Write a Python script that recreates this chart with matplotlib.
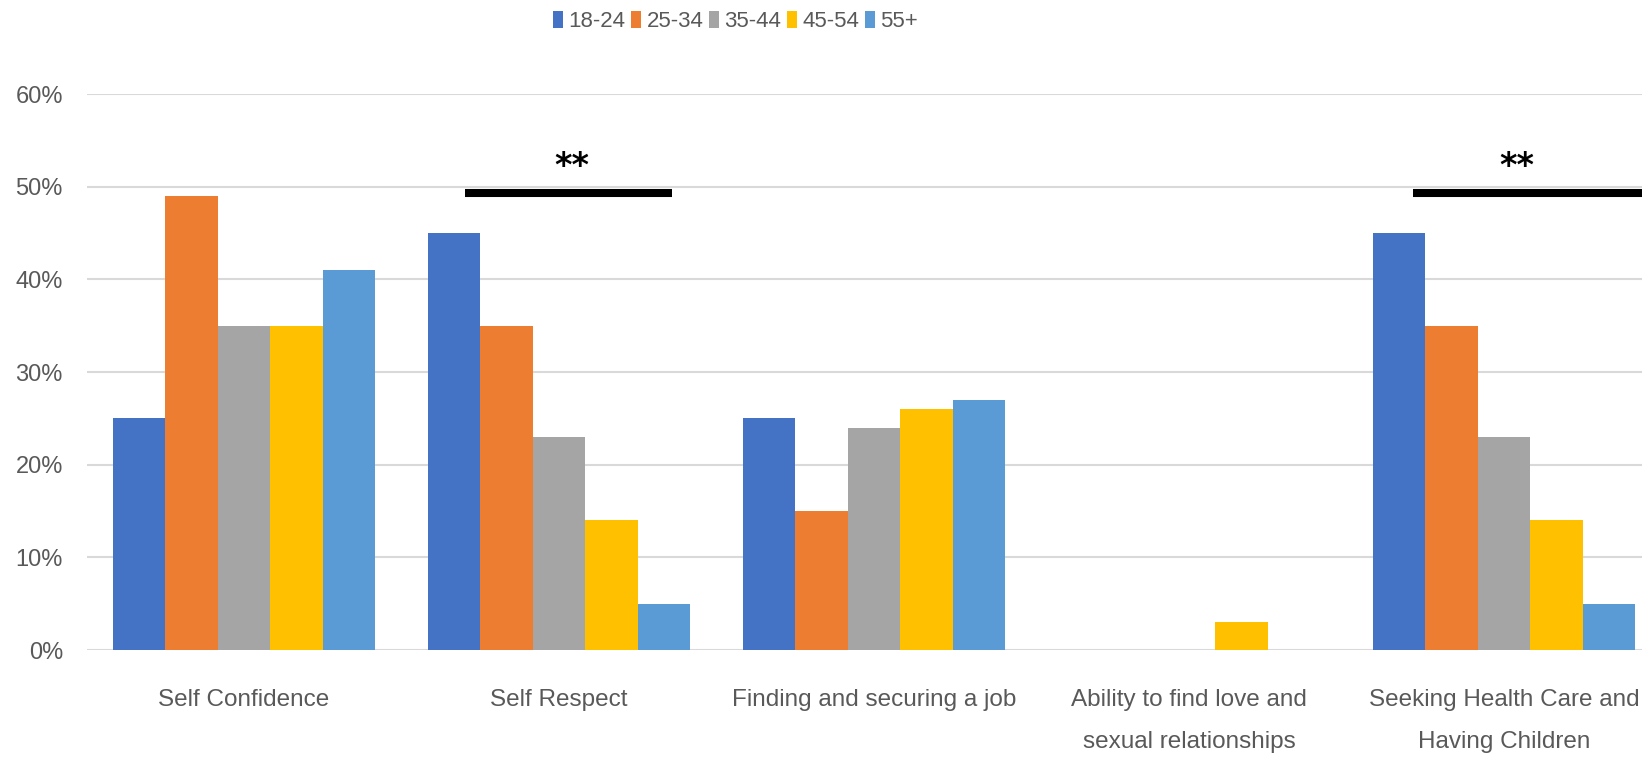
import matplotlib
matplotlib.use("Agg")
import matplotlib.pyplot as plt
from matplotlib.patches import Patch
import numpy as np

# Survey results by age group (share of respondents)
categories = ["Self Confidence", "Self Respect", "Finding and securing a job",
              "Ability to find love and\nsexual relationships",
              "Seeking Health Care and\nHaving Children"]
age_groups = ["18-24", "25-34", "35-44", "45-54", "55+"]
v_18_24 = [0.25, 0.45, 0.25, 0.00, 0.45]
v_25_34 = [0.49, 0.35, 0.15, 0.00, 0.35]
v_35_44 = [0.35, 0.23, 0.24, 0.00, 0.23]
v_45_54 = [0.35, 0.14, 0.26, 0.03, 0.14]
v_55_up = [0.41, 0.05, 0.27, 0.00, 0.05]
yticks = [0, 0.1, 0.2, 0.3, 0.4, 0.5, 0.6]
ytick_labels = ["0%", "10%", "20%", "30%", "40%", "50%", "60%"]

# significance bars: (x start, x end, star x)
sig_marks = [(0.70, 1.36, 1.04), (3.71, 4.50, 4.04)]
sig_label = "**"

colors = ["#4472C4", "#ED7D31", "#A5A5A5", "#FFC000", "#5B9BD5"]
series = [v_18_24, v_25_34, v_35_44, v_45_54, v_55_up]

TXT = "#595959"
plt.rcParams["font.family"] = ["Liberation Sans", "DejaVu Sans"]

fig = plt.figure(figsize=(16.42, 7.6), dpi=100)
ax = fig.add_axes([0.0527, 0.1447, 0.9592, 0.7316])

x = np.arange(len(categories))
w = 1 / 6
for i, (vals, c) in enumerate(zip(series, colors)):
    ax.bar(x + (i - 2) * w, vals, width=w, color=c, zorder=3)

ax.set_xlim(-0.5, len(categories) - 0.5)
ax.set_ylim(0, 0.6)
ax.set_yticks(yticks)
ax.set_yticklabels(ytick_labels)
ax.set_xticks(x)
ax.set_xticklabels(categories, linespacing=2.2)
ax.grid(axis="y", color="#D9D9D9", linewidth=1.5, zorder=0)
ax.tick_params(axis="x", length=0, pad=28, labelsize=17.5, labelcolor=TXT)
ax.tick_params(axis="y", length=0, pad=17, labelsize=17, labelcolor=TXT)
for s in ax.spines.values():
    s.set_visible(False)

for x0, x1, xs in sig_marks:
    ax.plot([x0, x1], [0.493, 0.493], color="black", linewidth=5.8,
            solid_capstyle="butt", zorder=4)
    ax.text(xs, 0.522, sig_label, ha="center", va="center", fontsize=24,
            fontweight="bold", family="DejaVu Sans", color="black")

handles = [Patch(facecolor=c, edgecolor="none") for c in colors]
fig.legend(handles, age_groups, loc="center", bbox_to_anchor=(0.448, 0.972),
           ncol=5, frameon=False, fontsize=16, labelcolor=TXT,
           handlelength=0.45, handleheight=0.85, handletextpad=0.25,
           columnspacing=0.25)

fig.savefig("out.png", dpi=100)
